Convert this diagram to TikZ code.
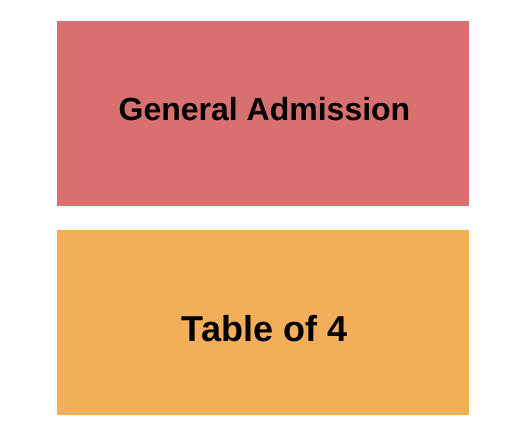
\documentclass[tikz,border=0pt]{standalone}
\usepackage{fontspec}
\setmainfont{Liberation Sans}
\definecolor{gared}{HTML}{D87070}
\definecolor{taborange}{HTML}{F3AE5C}
\tikzset{
  section/.style={inner sep=0pt, outer sep=0pt, font=\bfseries},
}
\begin{document}
\begin{tikzpicture}[x=1pt,y=-1pt]
\useasboundingbox[fill=white] (0,0) rectangle (525,444);
\fill[gared] (57,21) rectangle (469,205.5);
\fill[taborange] (57,230) rectangle (469,415);
\node[section, font=\bfseries\fontsize{32}{36}\selectfont] (ga) at (264.5,109) {General Admission};
\node[section, font=\bfseries\fontsize{36}{40}\selectfont] (t4) at (264.5,329) {Table of 4};
\end{tikzpicture}
\end{document}
